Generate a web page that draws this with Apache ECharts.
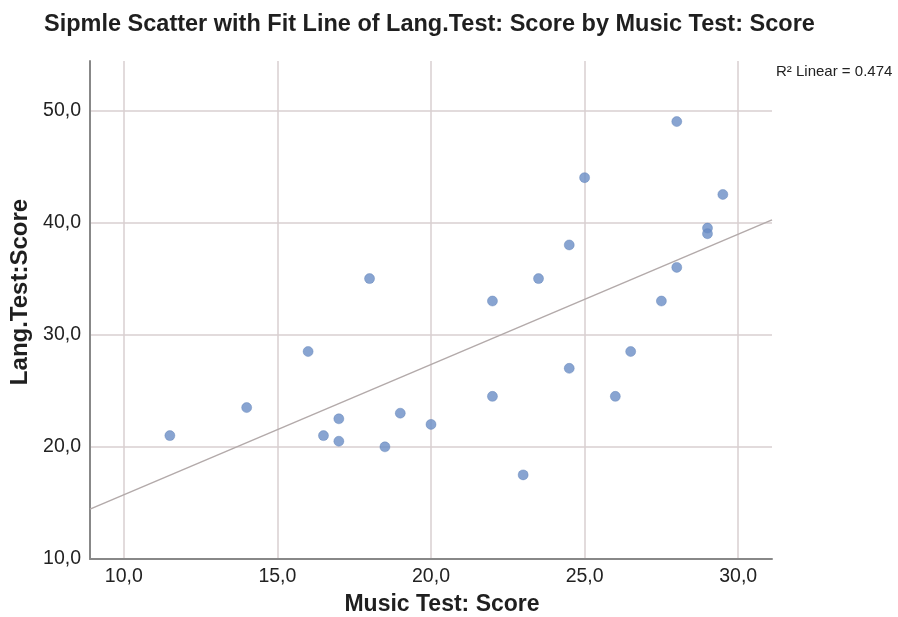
<!DOCTYPE html>
<html>
<head>
<meta charset="utf-8">
<script src="https://cdn.jsdelivr.net/npm/echarts@6/dist/echarts.min.js"></script>
<style>html,body{margin:0;padding:0;background:#fff}#c{width:898px;height:617px}</style>
</head>
<body>
<div id="c"></div>
<script>
const musicScore = [11.5,14,16,16.5,17,17,18,18.5,19,20,22,22,23,23.5,24.5,24.5,25,26,26.5,27.5,28,28,29,29,29.5];
const langScore  = [21,23.5,28.5,21,22.5,20.5,35,20,23,22,33,24.5,17.5,35,38,27,44,24.5,28.5,33,49,36,39.5,39,42.5];
const xTicks = [10,15,20,25,30];
const yTicks = [10,20,30,40,50];
const xRange = [8.9, 31.1];
const yRange = [10, 54.4];
const r2Text = 'R\u00B2 Linear = 0.474';

const pts = musicScore.map((x,i)=>[x, langScore[i]]);
// least squares fit
const n = pts.length;
const mx = musicScore.reduce((a,b)=>a+b,0)/n;
const my = langScore.reduce((a,b)=>a+b,0)/n;
let sxy=0, sxx=0;
for (let i=0;i<n;i++){ sxy += (musicScore[i]-mx)*(langScore[i]-my); sxx += (musicScore[i]-mx)**2; }
const slope = sxy/sxx, intercept = my - slope*mx;
const fitLine = xRange.map(x=>[x, intercept + slope*x]);

const FONT = 'Liberation Sans, Arial, sans-serif';
const fmt = v => v.toFixed(1).replace('.', ',');
const chart = echarts.init(document.getElementById('c'));
chart.setOption({
  animation: false,
  textStyle: {fontFamily: FONT},
  title: {
    text: 'Sipmle Scatter with Fit Line of Lang.Test: Score by Music Test: Score',
    left: 39, top: 8,
    textStyle: {fontSize: 23.5, fontWeight: 'bold', color: '#1f1f1f', fontFamily: FONT}
  },
  graphic: [{
    type: 'text', left: 776, top: 64,
    style: {text: r2Text, fontSize: 15, fill: '#222', fontFamily: FONT}
  }],
  grid: {left: 90, right: 126, top: 61, bottom: 58, containLabel: false, outerBoundsMode: 'none'},
  xAxis: {
    type: 'value', min: xRange[0], max: xRange[1],
    name: 'Music Test: Score', nameLocation: 'middle', nameGap: 34,
    nameTextStyle: {fontSize: 23, fontWeight: 'bold', color: '#1f1f1f', padding: [0,0,0,22]},
    axisLine: {show: true, lineStyle: {color: '#888', width: 2}},
    axisTick: {show: false, customValues: xTicks},
    axisLabel: {customValues: xTicks, formatter: fmt, fontSize: 19.5, color: '#222', margin: 8},
    splitLine: {show: true, lineStyle: {color: '#d9cfd0', width: 1.5}}
  },
  yAxis: {
    type: 'value', min: yRange[0], max: yRange[1],
    name: 'Lang.Test:Score', nameLocation: 'middle', nameGap: 57, nameRotate: 90,
    nameTextStyle: {fontSize: 24, fontWeight: 'bold', color: '#1f1f1f', padding: [0,0,0,36]},
    axisLine: {show: true, lineStyle: {color: '#888', width: 2}},
    axisTick: {show: false, customValues: yTicks},
    axisLabel: {customValues: yTicks, formatter: fmt, fontSize: 19.5, color: '#222', margin: 9},
    splitLine: {show: true, lineStyle: {color: '#d9cfd0', width: 1.5}}
  },
  series: [{
    type: 'line', data: fitLine, symbol: 'none', silent: true,
    lineStyle: {color: '#b3aaaa', width: 1.5}, z: 2
  },{
    type: 'scatter', data: pts, symbolSize: 10,
    itemStyle: {color: '#6a8dc5', borderColor: '#5a7db3', borderWidth: 0.5}, z: 3
  }]
});
</script>
</body>
</html>
